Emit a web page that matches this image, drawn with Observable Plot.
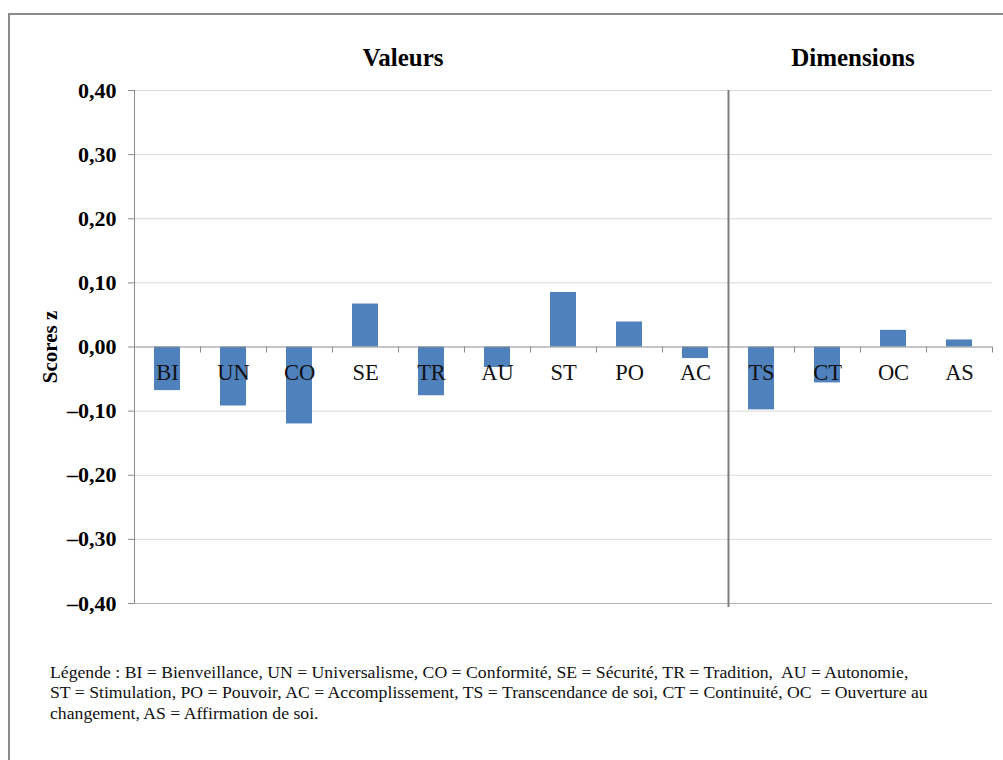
<!DOCTYPE html>
<html>
<head>
<meta charset="utf-8">
<script src="https://cdn.jsdelivr.net/npm/d3@7"></script>
<script src="https://cdn.jsdelivr.net/npm/@observablehq/plot@0.6"></script>
<style>
  html, body { margin: 0; padding: 0; background: #fff; overflow: hidden; width: 1003px; height: 760px; }
  #wrap { position: relative; width: 1003px; height: 760px; font-family: "Liberation Serif", "Times New Roman", serif; }
  #frame { position: absolute; left: 8px; top: 13px; width: 1100px; height: 800px; border: 2px solid #8c8c8c; box-sizing: border-box; }
  #chart { position: absolute; left: 0; top: 0; }
  .title { position: absolute; top: 44px; font-weight: bold; font-size: 25px; color: #000; transform: translateX(-50%); white-space: nowrap; }
  #legend { position: absolute; left: 50px; top: 662px; font-size: 17.7px; line-height: 20.3px; color: #111; white-space: nowrap; }
  g[aria-label="y-axis tick label"] text { font-weight: bold; }
</style>
</head>
<body>
<div id="wrap">
  <div id="frame"></div>
  <div id="chart"></div>
  <div class="title" style="left:403px">Valeurs</div>
  <div class="title" style="left:853px">Dimensions</div>
  <div id="legend">Légende : BI = Bienveillance, UN = Universalisme, CO = Conformité, SE = Sécurité, TR = Tradition,&nbsp; AU = Autonomie,<br>ST = Stimulation, PO = Pouvoir, AC = Accomplissement, TS = Transcendance de soi, CT = Continuité, OC&nbsp; = Ouverture au<br>changement, AS = Affirmation de soi.</div>
</div>
<script>
const categories = ["BI","UN","CO","SE","TR","AU","ST","PO","AC","TS","CT","OC","AS"];
const scores = [-0.068,-0.092,-0.120,0.067,-0.076,-0.032,0.085,0.039,-0.018,-0.098,-0.056,0.026,0.011];
const yTicks = [-0.4,-0.3,-0.2,-0.1,0,0.1,0.2,0.3,0.4];
const groupStart = "TS";

const data = categories.map((c, i) => ({cat: c, score: scores[i]}));

const W = 1003, H = 760, ML = 134, MR = 11, MT = 90, MB = 157;
const step = (W - ML - MR) / categories.length;
const fmt = d => (d < 0 ? "–" : "") + Math.abs(d).toFixed(2).replace(".", ",");

const chart = Plot.plot({
  width: W, height: H,
  marginLeft: ML, marginRight: MR, marginTop: MT, marginBottom: MB,
  style: {fontFamily: "Liberation Serif, Times New Roman, serif", background: "transparent", color: "#000"},
  x: {type: "band", domain: categories, paddingInner: 0.6, paddingOuter: 0.3, axis: null},
  y: {domain: [-0.4, 0.4], axis: null, label: null},
  marks: [
    Plot.ruleY(yTicks.filter(d => d !== 0 && d !== -0.4), {stroke: "#d9d9d9", strokeWidth: 1}),
    Plot.ruleY([-0.4], {stroke: "#b3b3b3", strokeWidth: 1}),
    Plot.barY(data, {x: "cat", y: "score", fill: "#4F81BD"}),
    Plot.ruleY([0], {stroke: "#8c8c8c", strokeWidth: 1}),
    // category boundary ticks below the zero line
    Plot.ruleX(categories, {x: d => d, y1: 0, y2: 0, dx: -step / 2, insetBottom: -6, stroke: "#8c8c8c"}),
    Plot.ruleX([categories[categories.length - 1]], {x: d => d, y1: 0, y2: 0, dx: step / 2, insetBottom: -6, stroke: "#8c8c8c"}),
    // left axis line
    Plot.ruleX([categories[0]], {x: d => d, y1: 0.4, y2: -0.4, dx: -step / 2, stroke: "#8c8c8c"}),
    // separator between Valeurs and Dimensions
    Plot.ruleX([groupStart], {x: d => d, y1: 0.4, y2: -0.4, dx: -step / 2, insetBottom: -4, stroke: "#7f7f7f", strokeWidth: 2}),
    Plot.axisY(yTicks, {label: null, tickSize: 6, tickPadding: 12, tickFormat: fmt, fontSize: 22, fontWeight: "bold", stroke: "#8c8c8c", fill: "#000"}),
    Plot.text(data, {x: "cat", y: 0, text: "cat", dy: 26, fontSize: 22.5, fill: "#111"}),
    Plot.text(["Scores z"], {frameAnchor: "left", textAnchor: "middle", dx: -84, rotate: -90, fontSize: 21, fontWeight: "bold", fill: "#000"})
  ]
});
document.getElementById("chart").appendChild(chart);
</script>
</body>
</html>
